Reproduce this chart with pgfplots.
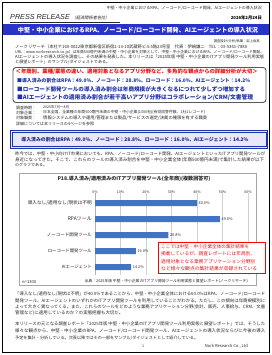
\documentclass[border=0pt]{standalone}
\usepackage{graphicx}
\usepackage{pgfplots}
\pgfplotsset{compat=1.18}
\usepackage{fontspec}
\setmainfont{Noto Sans CJK JP}
\newfontfamily\prfont{Liberation Sans}
\newfontfamily\jpslant[FakeSlant=0.2]{Noto Sans CJK JP}
\definecolor{banner}{RGB}{40,52,200}
\definecolor{barblue}{RGB}{68,114,196}
\definecolor{hlblue}{RGB}{30,50,170}
\definecolor{navy}{RGB}{25,35,130}
\definecolor{lav}{RGB}{232,232,250}
\definecolor{txt}{RGB}{40,40,40}
\definecolor{redt}{RGB}{235,20,20}
\newcommand\fs[1]{\fontsize{#1}{#1}\selectfont}
\newcommand\fit[2]{\resizebox{#1pt}{!}{#2}}
\begin{document}
\begin{tikzpicture}
\useasboundingbox (0,0) rectangle (272pt,-355pt);
\fill[white] (0,0) rectangle (272pt,-355pt);
\begin{scope}[x=1pt,y=-1pt]
 \draw[line width=1.6pt] (2.5,2.5) rectangle (269.5,352.5);
 % header
 \node[anchor=east, font=\fs{3.3}, text=txt, inner sep=0] at (262,8) {\fit{155}{中堅・中小企業におけるRPA、ノーコード/ローコード開発、AIエージェントの導入状況}};
 \node[anchor=base west, inner sep=0, text=txt] at (10,20) {{\prfont\itshape\fs{7.2}PRESS RELEASE}\hspace{2pt}{\jpslant\fs{4.2}（経済関係者各位）}};
 \draw[txt, line width=0.4pt] (10,21.8) -- (120,21.8);
 \node[anchor=base east, inner sep=0, font=\bfseries\fs{4.6}] at (262,19.5) {\fit{31}{2026年2月24日}};
 \fill[banner] (3.3,24.5) rectangle (268.7,35.5);
 \node[text=white, font=\bfseries\fs{6.0}, inner sep=0] at (138,30) {\fit{240}{中堅・中小企業におけるRPA、ノーコード/ローコード開発、AIエージェントの導入状況}};
 \node[anchor=east, font=\fs{3.7}, text=txt, inner sep=0] at (260,41.5) {\fit{46}{調査設計/分析/執筆：岩上由高}};
 % intro paragraph
 \begin{scope}[every node/.style={anchor=west, inner sep=0, text=txt, font=\fs{3.8}}]
  \node at (15,47) {\fit{232}{ノークリサーチ（本社〒160-0022東京都新宿区新宿2-13-10武蔵野ビル5階23号室　代表：伊嶋謙二　TEL：03-5361-7880}};
  \node at (15,52) {\fit{249}{URL：www.norkresearch.co.jp）は年商500億円未満の中堅・中小企業を対象として、中堅・中小企業におけるRPA、ノーコード/ローコード開発、}};
  \node at (15,57) {\fit{249}{AIエージェントの導入状況を調査し、その結果を発表した。本リリースは「2025年版 中堅・中小企業のITアプリ開発ツール利用実態}};
  \node at (15,62) {\fit{95}{と展望レポート」のサンプル/ダイジェストである。}};
 \end{scope}
 % headline box
 \draw[gray!70!black, line width=0.9pt, rounded corners=3pt] (13,67.5) rectangle (266,102.5);
 \node[text=redt, font=\bfseries\fs{5.0}, inner sep=0, anchor=west] at (15.5,72) {\fit{242}{＜年商別、業種/業態の違い、適用対象となるアプリ分野など、多角的な観点からの詳細分析が大切＞}};
 \begin{scope}[every node/.style={anchor=west, inner sep=0, text=hlblue, font=\bfseries\fs{5.0}}]
  \node at (17,81) {\fit{233}{■導入済みの割合はRPA：49.0\%、ノーコード：28.8\%、ローコード：16.0\%、AIエージェント：14.2\%}};
  \node at (17,89.3) {\fit{228}{■ローコード開発ツールの導入済み割合は年商規模が大きくなるにつれて少しずつ増加する}};
  \node at (17,97.7) {\fit{236}{■AIエージェントの適用済み割合が若干高いアプリ分野はコラボレーション/CRM/文書管理}};
 \end{scope}
 % survey info
 \begin{scope}[every node/.style={anchor=west, inner sep=0, text=txt, font=\fs{3.8}}]
  \node at (16,107.5) {\fit{20}{調査時期：}};  \node at (43,107.5) {\fit{26}{2025年7月～8月}};
  \node at (16,112.7) {\fit{20}{対象企業：}};  \node at (43,112.7) {\fit{162}{日本全国、全業種の年商500億円未満の中堅・中小企業(1300社)(有効回答件数、1社1レコード)}};
  \node at (16,118) {\fit{20}{対象職責：}};  \node at (43,118) {\fit{164}{情報システムの導入や運用/管理または製品/サービスの選定/決裁の権限を有する職責}};
  \node at (16,123.5) {\fit{78}{詳細については本リリースの4ページを参照}};
 \end{scope}
 % highlight box
 \fill[lav] (10.5,130) rectangle (267.5,148.5);
 \draw[hlblue, line width=0.8pt] (10.5,130) rectangle (267.5,148.5);
 \draw[hlblue, line width=0.4pt] (12.3,131.8) rectangle (265.7,146.7);
 \node[text=navy, font=\bfseries\fs{5.3}, inner sep=0] at (135,139.2) {\fit{227}{導入済みの割合はRPA：49.0\%、ノーコード：28.8\%、ローコード：16.0\%、AIエージェント：14.2\%}};
 % paragraph
 \begin{scope}[every node/.style={anchor=west, inner sep=0, text=txt, font=\fs{4.0}}]
  \node at (15,154.3) {\fit{250}{昨今では、中堅・中小向けIT市場においても、RPA、ノーコード/ローコード開発、AIエージェントといったITアプリ開発ツールが}};
  \node at (15,159.7) {\fit{249}{身近になってきた。そこで、これらのツールの導入済み割合を中堅・中小企業全体(年商500億円未満)で集計した結果が以下}};
  \node at (15,165) {\fit{32}{のグラフである。}};
 \end{scope}
 % chart frame
 \draw[gray!70, line width=0.5pt] (19,173) rectangle (256,285.5);
 \node[font=\bfseries\fs{4.4}, text=txt, inner sep=0] at (134,178.7) {\fit{153}{P18.導入済み/適用済みのITアプリ開発ツール(全年商)(複数回答可)}};
 \node[anchor=west, font=\fs{3.3}, text=txt, inner sep=0] at (22,282.5) {\fit{14}{n=1300}};
 \node[anchor=east, font=\fs{3.6}, text=txt, inner sep=0] at (248,281.5) {\fit{163}{出典：2025年版 中堅・中小企業のITアプリ開発ツール利用実態と展望レポート(ノークリサーチ)}};
 % bottom paragraphs
 \begin{scope}[every node/.style={anchor=west, inner sep=0, text=txt, font=\fs{4.0}}]
  \node at (15,294.3) {\fit{250}{「導入なし/適用なし/現状は不明」が40.0\%であることから、中堅・中小企業全体における60.0\%はRPA、ノーコード/ローコード}};
  \node at (15,300.7) {\fit{250}{開発ツール、AIエージェントのいずれかのITアプリ開発ツールを利用していることがわかる。ただし、この傾向は年商規模別に}};
  \node at (15,306.8) {\fit{250}{よって大きく異なってくる。また、これらのツールをどのような業務アプリケーション分野(会計、販売、人事給与、CRM、文書}};
  \node at (15,313) {\fit{108}{管理など)に適用しているのか？の実態把握も大切だ。}};
  \node at (15,323.5) {\fit{250}{本リリースの元となる調査レポート「2025年版 中堅・中小企業のITアプリ開発ツール利用実態と展望レポート」では、そうした}};
  \node at (15,330.8) {\fit{250}{様々な観点から、中堅・中小企業のRPA、ノーコード/ローコード開発ツール、AIエージェントの導入状況ならびに今後の導入}};
  \node at (15,338) {\fit{183}{予定を集計・分析している。次頁以降ではその一部をサンプル/ダイジェストとして紹介している。}};
 \end{scope}
 \node[font=\fs{3.6}, text=txt, inner sep=0] at (143,346) {1};
 \node[anchor=east, font=\fs{3.6}, text=txt, inner sep=0] at (248,346) {\fit{43}{Nork Research Co., Ltd}};
\end{scope}
\begin{axis}[
  at={(95pt,-193.4pt)}, anchor=north west,
  scale only axis, width=153pt, height=81.6pt,
  xbar, bar width=6pt,
  xmin=0, xmax=60,
  ymin=-0.6, ymax=4.5, y dir=reverse,
  ytick={0,1,2,3,4},
  yticklabels={\fit{64}{導入なし/適用なし/現状は不明}, \fit{24}{RPAツール}, \fit{45}{ノーコード開発ツール}, \fit{44}{ローコード開発ツール}, \fit{30}{AIエージェント}},
  xtick={0,10,20,30,40,50,60},
  /pgf/number format/assume math mode=true,
  xticklabel={\pgfmathprintnumber{\tick}\%},
  xticklabel pos=upper,
  xticklabel style={font=\fs{3.6}, text=txt, inner sep=0pt},
  yticklabel style={font=\fs{4.3}, text=txt, inner sep=0pt, xshift=-3pt},
  axis line style={draw=none},
  major tick length=0pt,
  xmajorgrids, grid style={gray!35, line width=0.5pt},
  nodes near coords={\pgfmathprintnumber[fixed,fixed zerofill,precision=1]{\pgfplotspointmeta}\%},
  every node near coord/.append style={font=\fs{3.8}, text=txt, inner sep=1.5pt},
  clip=false,
]
\draw[gray!60, line width=0.5pt] (axis cs:0,-0.6) -- (axis cs:0,4.5);
\addplot[fill=barblue, draw=none] coordinates {(40.0,0) (49.0,1) (28.8,2) (16.0,3) (14.2,4)};
\end{axis}
\begin{scope}[x=1pt,y=-1pt]
 \filldraw[fill=white, draw=red, line width=0.8pt] (158,242) rectangle (265,273);
 \begin{scope}[every node/.style={anchor=west, inner sep=0, text=redt, font=\fs{4.5}}]
  \node at (161,246.3) {\fit{88}{ここでは中堅・中小企業全体の集計結果を}};
  \node at (161,254) {\fit{94}{掲載しているが、調査レポートには年商別、}};
  \node at (161,261.7) {\fit{94}{適用対象となる業務アプリケーション分野別}};
  \node at (161,269) {\fit{96}{など様々な観点の集計結果が収録されている}};
 \end{scope}
\end{scope}
\end{tikzpicture}
\end{document}
